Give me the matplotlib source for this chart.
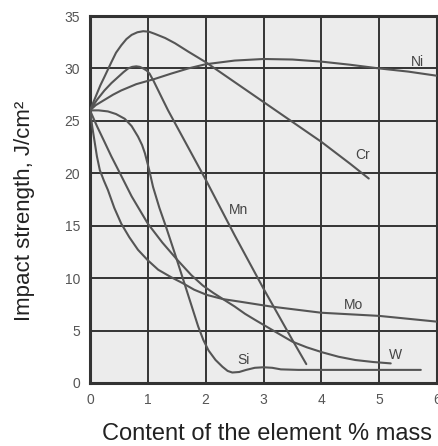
import numpy as np
import matplotlib
matplotlib.use("Agg")
import matplotlib.pyplot as plt

plt.rcParams['font.family'] = ['Liberation Sans', 'DejaVu Sans']

# curves: content % mass -> impact strength J/cm2
ni_x = [0, 0.1, 0.25, 0.4, 0.54, 0.8, 1.12, 1.4, 1.7, 2.0, 2.5, 3.0, 3.5, 4.0, 4.5, 5.0, 5.5, 6.0]
ni_y = [26, 26.5, 27.0, 27.5, 27.9, 28.5, 29.0, 29.5, 30.0, 30.4, 30.75, 30.9, 30.85, 30.65, 30.35, 30.0, 29.7, 29.3]

cr_x = [0, 0.06, 0.12, 0.18, 0.25, 0.31, 0.37, 0.45, 0.54, 0.63, 0.72, 0.82, 0.92, 1.02, 1.12, 1.3, 1.47, 1.7,
        2.0, 2.5, 3.0, 3.5, 4.0, 4.5, 4.82]
cr_y = [26, 26.8, 27.6, 28.4, 29.2, 29.9, 30.6, 31.5, 32.2, 32.8, 33.2, 33.45, 33.55, 33.5, 33.3, 32.9, 32.4, 31.6,
        30.6, 28.7, 26.8, 24.9, 23.0, 20.9, 19.5]

mn_x = [0, 0.12, 0.25, 0.37, 0.49, 0.58, 0.66, 0.73, 0.8, 0.86, 0.92, 0.98, 1.03, 1.1, 1.18, 1.26, 1.35,
        2.0, 2.5, 3.0, 3.5, 3.74]
mn_y = [26, 27.0, 27.9, 28.6, 29.2, 29.65, 30.0, 30.15, 30.2, 30.15, 30.0, 29.8, 29.5, 28.8, 27.9, 27.0, 26.0,
        19.4, 14.1, 9.0, 4.1, 1.8]

si_x = [0, 0.15, 0.31, 0.45, 0.6, 0.72, 0.83, 0.9, 0.95, 1.02, 1.09, 1.2, 1.32, 1.47, 1.65, 1.87, 1.96, 2.05,
        2.17, 2.29, 2.38, 2.46, 2.58, 2.7, 2.85, 3.0, 3.15, 3.3, 3.6, 4.0, 5.0, 5.72]
si_y = [26, 26.0, 25.9, 25.65, 25.2, 24.5, 23.5, 22.7, 21.9, 20.4, 18.7, 16.7, 14.8, 12.3, 9.2, 5.4, 4.1, 3.1,
        2.2, 1.55, 1.15, 1.0, 1.05, 1.25, 1.45, 1.5, 1.45, 1.3, 1.25, 1.25, 1.25, 1.25]

mo_x = [0, 0.04, 0.08, 0.12, 0.17, 0.24, 0.31, 0.42, 0.54, 0.68, 0.83, 1.0, 1.18, 1.4, 1.61, 1.8, 2.02, 2.3,
        2.6, 3.12, 4.0, 5.0, 6.0]
mo_y = [26, 24.4, 23.0, 21.6, 20.3, 19.3, 18.4, 16.7, 15.2, 13.9, 12.7, 11.7, 10.8, 10.1, 9.5, 8.9, 8.4, 8.0,
        7.75, 7.3, 6.7, 6.4, 5.85]

w_x = [0, 0.12, 0.25, 0.37, 0.5, 0.72, 0.86, 1.0, 1.25, 1.5, 1.75, 1.95, 2.13, 2.3, 2.5, 2.68, 2.86, 3.2, 3.5,
       3.75, 4.02, 4.3, 4.59, 4.9, 5.2]
w_y = [26, 24.5, 23.0, 21.6, 20.2, 17.8, 16.5, 15.2, 13.4, 11.8, 10.3, 9.3, 8.6, 8.0, 7.3, 6.6, 6.0, 4.9, 3.94,
       3.4, 2.92, 2.5, 2.19, 2.0, 1.87]

names = ['Ni', 'Cr', 'Mn', 'Si', 'Mo', 'W']
label_x = [5.66, 4.71, 2.57, 2.66, 4.55, 5.29]
label_y = [30.6, 21.7, 16.5, 2.2, 7.45, 2.7]

fig = plt.figure(figsize=(4.38, 4.46), dpi=100)
ax = fig.add_axes([90 / 438, 1 - 383 / 446, 347 / 438, 367 / 446])
ax.set_facecolor('#ececec')

for xs, ys in [(ni_x, ni_y), (cr_x, cr_y), (mn_x, mn_y), (si_x, si_y), (mo_x, mo_y), (w_x, w_y)]:
    ax.plot(xs, ys, color='#555555', lw=1.5, solid_capstyle='round', solid_joinstyle='round', zorder=3)

for name, lx, ly in zip(names, label_x, label_y):
    ax.text(lx, ly, name, fontsize=10, color='#444444', ha='center', va='center', zorder=4)

ax.set_xlim(0, 6)
ax.set_ylim(0, 35)
ax.set_xticks(range(0, 7))
ax.set_yticks(range(0, 36, 5))
ax.grid(True, color='#333333', lw=1.4)
ax.set_axisbelow(True)
ax.tick_params(length=0, labelsize=10, labelcolor='#555555', pad=7)
for s in ax.spines.values():
    s.set_color('#333333')
    s.set_linewidth(2.2)

ax.set_xlabel('Content of the element % mass', fontsize=17, color='#222222')
ax.xaxis.set_label_coords(0.51, -0.11)
ax.set_ylabel('Impact strength, J/cm²', fontsize=16, color='#222222')
ax.yaxis.label.set_va('center')
ax.yaxis.set_label_coords(-0.19, 0.47)

fig.savefig('out.png', dpi=100)
